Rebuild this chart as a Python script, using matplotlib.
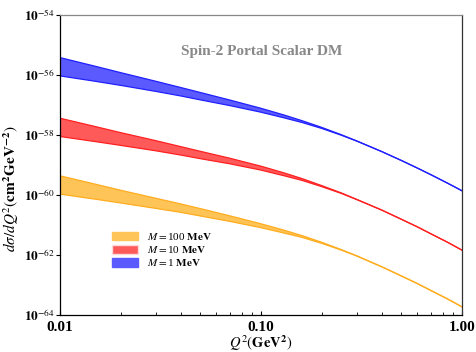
import numpy as np
import matplotlib
matplotlib.use("Agg")
import matplotlib.pyplot as plt
from matplotlib.ticker import FixedLocator, LogLocator, NullFormatter
from matplotlib.patches import Patch

plt.rcParams["font.family"] = "Liberation Serif"
plt.rcParams["mathtext.fontset"] = "stix"

# Q^2 (GeV^2)
q2 = [0.01, 0.015, 0.02, 0.03, 0.04, 0.05, 0.07, 0.1, 0.13, 0.16,
      0.2, 0.25, 0.3, 0.4, 0.5, 0.6, 0.7, 0.85, 1.0]

# log10 of dsigma/dQ^2, upper / lower edge of each band
m1_hi = [-55.42, -55.71, -55.92, -56.21, -56.42, -56.585, -56.835, -57.11, -57.332, -57.523,
         -57.744, -57.986, -58.198, -58.555, -58.850, -59.102, -59.322, -59.609, -59.858]
m1_lo = [-56.03, -56.21, -56.345, -56.547, -56.70, -56.83, -57.02, -57.24, -57.427, -57.583,
         -57.779, -58.004, -58.206, -58.558, -58.852, -59.104, -59.324, -59.611, -59.860]
m10_hi = [-57.44, -57.72, -57.92, -58.19, -58.39, -58.545, -58.775, -59.04, -59.262, -59.453,
          -59.684, -59.926, -60.148, -60.505, -60.810, -61.062, -61.292, -61.579, -61.838]
m10_lo = [-58.05, -58.22, -58.345, -58.527, -58.67, -58.79, -58.96, -59.17, -59.357, -59.513,
          -59.719, -59.944, -60.156, -60.508, -60.812, -61.064, -61.294, -61.581, -61.840]
m100_hi = [-59.36, -59.64, -59.84, -60.11, -60.30, -60.455, -60.695, -60.96, -61.172, -61.353,
           -61.574, -61.816, -62.028, -62.395, -62.700, -62.952, -63.182, -63.469, -63.728]
m100_lo = [-59.97, -60.14, -60.265, -60.447, -60.58, -60.70, -60.88, -61.09, -61.267, -61.413,
           -61.609, -61.834, -62.036, -62.398, -62.702, -62.954, -63.184, -63.471, -63.730]

labels = [r"$M=$100 $\mathbf{MeV}$", r"$M=$10 $\mathbf{MeV}$", r"$M=$1 $\mathbf{MeV}$"]
fills = ["#ffc457", "#ff5a5a", "#5a5aff"]
edges = ["#ffad1f", "#ff2020", "#2020ff"]

fig = plt.figure(figsize=(4.76, 3.52), dpi=100)
ax = fig.add_axes([60 / 476, 37 / 352, 402 / 476, 300 / 352])

bands = [(m100_hi, m100_lo), (m10_hi, m10_lo), (m1_hi, m1_lo)]
for (hi, lo), fc, ec in zip(bands, fills, edges):
    hi = 10.0 ** np.array(hi)
    lo = 10.0 ** np.array(lo)
    ax.fill_between(q2, lo, hi, facecolor=fc, edgecolor="none")
    ax.plot(q2, hi, color=ec, lw=0.9)
    ax.plot(q2, lo, color=ec, lw=0.9)

ax.set_xscale("log")
ax.set_yscale("log")
ax.set_xlim(0.01, 1.0)
ax.set_ylim(1e-64, 1e-54)

yt = [10.0 ** k for k in range(-64, -53, 2)]
ax.yaxis.set_major_locator(FixedLocator(yt))
ax.yaxis.set_minor_locator(FixedLocator([]))
ax.set_yticklabels([r"$\mathbf{10}^{%d}$" % k for k in range(-64, -53, 2)])
ax.xaxis.set_major_locator(FixedLocator([0.01, 0.1, 1.0]))
ax.xaxis.set_minor_locator(LogLocator(base=10, subs=np.arange(2, 10)))
ax.xaxis.set_minor_formatter(NullFormatter())
ax.set_xticklabels(["0.01", "0.10", "1.00"], fontweight="bold")

ax.tick_params(axis="y", direction="out", length=3, width=0.8, labelsize=9.5, pad=1)
ax.tick_params(axis="x", which="major", direction="in", length=3, width=0.8, labelsize=11, pad=4)
ax.tick_params(axis="x", which="minor", direction="in", length=2, width=0.6)

ax.spines["top"].set_color("#888888")
ax.spines["right"].set_color("#333333")
for s in ax.spines.values():
    s.set_linewidth(0.9)

ax.set_xlabel(r"$Q^2(\mathbf{GeV^2})$", fontsize=10.5, labelpad=0)
ax.set_ylabel(r"$d\sigma/dQ^2(\mathbf{cm^2GeV^{-2}})$", fontsize=11)
ax.yaxis.set_label_coords(-0.098, 0.42)

ax.text(0.30, 0.88, "Spin-2 Portal Scalar DM", transform=ax.transAxes,
        color="#888888", fontsize=11, fontweight="bold", ha="left", va="center")

handles = [Patch(facecolor=fc, edgecolor="#ffd9d9" if i == 1 else fc, label=lb)
           for i, (fc, lb) in enumerate(zip(fills, labels))]
ax.legend(handles=handles, loc="lower left", bbox_to_anchor=(0.13, 0.155),
          frameon=False, fontsize=8, handlelength=2.3, handleheight=0.8,
          labelspacing=0.2, handletextpad=0.8, borderpad=0, borderaxespad=0)

fig.savefig("out.png", dpi=100)
